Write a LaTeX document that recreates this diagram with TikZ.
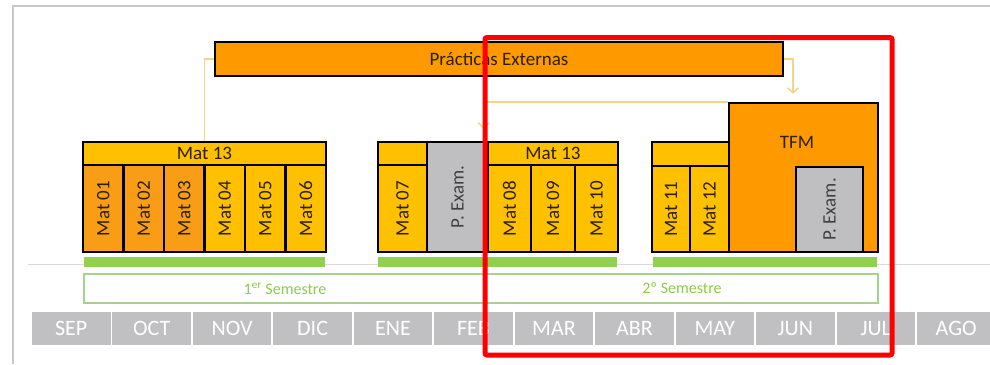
\documentclass[tikz,border=0pt]{standalone}
\usepackage{fontspec}
\setmainfont{Carlito}
\usetikzlibrary{arrows.meta}
\definecolor{orng}{HTML}{FF9900}
\definecolor{orngm}{HTML}{F99D17}
\definecolor{yell}{HTML}{FFC000}
\definecolor{exgray}{HTML}{BFBFC1}
\definecolor{mgray}{HTML}{C0C0C2}
\definecolor{barg}{HTML}{92D050}
\definecolor{semb}{HTML}{A9D18E}
\definecolor{semt}{HTML}{8DCB4C}
\definecolor{connc}{HTML}{F5D48A}
\definecolor{framec}{HTML}{C8C8C8}
\definecolor{txt}{HTML}{2A2000}
\newcommand\mkcell[8]{%
  \pgfmathsetmacro\mcW{#4-#2}\pgfmathsetmacro\mcH{#5-#3}%
  \pgfmathsetmacro\mcX{(#2+#4)/2}\pgfmathsetmacro\mcY{(#3+#5)/2}%
  \ifnum#7=0
    \node[#6,minimum width=\mcW pt,minimum height=\mcH pt] (#1) at (\mcX,\mcY) {#8};
  \else
    \node[#6,rotate=90,minimum width=\mcH pt,minimum height=\mcW pt] (#1) at (\mcX,\mcY) {#8};
  \fi}
\begin{document}
\begin{tikzpicture}[x=1pt,y=-1pt,
  box/.style={draw=black,line width=2.4pt,inner sep=0pt,text=txt,font=\fontsize{19}{19}\selectfont},
  org/.style={box,fill=orngm},
  yel/.style={box,fill=yell},
  exam/.style={box,fill=exgray,text=black!75},
  conn/.style={draw=connc,line width=1.5pt},
  arr/.style={-{Straight Barb[length=5pt,width=11pt]}},
  gbar/.style={fill=barg,inner sep=0pt},
  sem/.style={draw=semb,line width=1.5pt,inner sep=0pt,text=semt,font=\fontsize{16}{16}\selectfont},
  month/.style={fill=mgray,inner sep=0pt,text=white,font=\fontsize{22}{22}\selectfont,minimum width=78.5pt,minimum height=33pt}]
\useasboundingbox (0,0) rectangle (990,364);
\fill[white] (0,0) rectangle (990,364);
\begin{scope}
\clip (0,0) rectangle (990,364);
% frame
\draw[framec,line width=2pt] (990,6) -- (13,6) -- (13,364);
% timeline base line
\draw[black!15,line width=1pt] (28,264) -- (990,264);
% Practicas
\mkcell{prac}{215}{42}{783}{76}{box,fill=orng}{0}{Prácticas Externas}
% Block 1
\mkcell{h1}{83}{142}{326}{165}{yel}{0}{Mat 13}
\mkcell{m01}{83}{165}{123.5}{252}{org}{1}{Mat 01}
\mkcell{m02}{123.5}{165}{164}{252}{org}{1}{Mat 02}
\mkcell{m03}{164}{165}{204.5}{252}{org}{1}{Mat 03}
\mkcell{m04}{204.5}{165}{245}{252}{yel}{1}{Mat 04}
\mkcell{m05}{245}{165}{285.5}{252}{yel}{1}{Mat 05}
\mkcell{m06}{285.5}{165}{326}{252}{yel}{1}{Mat 06}
% Block 2
\mkcell{h2a}{378}{142}{427}{165}{yel}{0}{}
\mkcell{m07}{378}{165}{427}{252}{yel}{1}{Mat 07}
\mkcell{ex1}{427}{142}{488}{252}{exam}{1}{P. Exam.}
\mkcell{h2b}{488}{142}{618}{165}{yel}{0}{Mat 13}
\mkcell{m08}{488}{165}{531}{252}{yel}{1}{Mat 08}
\mkcell{m09}{531}{165}{575}{252}{yel}{1}{Mat 09}
\mkcell{m10}{575}{165}{618}{252}{yel}{1}{Mat 10}
% Block 3
\mkcell{h3}{652}{142}{729}{166}{yel}{0}{}
\mkcell{m11}{652}{166}{690}{252}{yel}{1}{Mat 11}
\mkcell{m12}{690}{166}{729}{252}{yel}{1}{Mat 12}
\mkcell{tfm}{729}{103}{878}{252}{box,fill=orng}{0}{}
\node[text=txt,font=\fontsize{19}{19}\selectfont,inner sep=0pt] (tfml) at (797,142) {TFM};
\mkcell{ex2}{796}{167}{863}{252}{exam}{1}{P. Exam.}
% connectors
\draw[conn] (prac.west) -| (h1.north);
\draw[conn,arr] (prac.east) -| ([xshift=-10.5pt,yshift=8pt]tfm.north);
\draw[conn,arr] (tfm.north west) -| ([xshift=-3pt,yshift=12pt]h2b.north west);
% green bars
\mkcell{g1}{84}{257}{325}{267}{gbar}{0}{}
\mkcell{g2}{378}{257}{617}{267}{gbar}{0}{}
\mkcell{g3}{653}{257}{877}{267}{gbar}{0}{}
% semesters
\mkcell{s1}{84}{274}{486}{303}{sem}{0}{1\textsuperscript{er} Semestre}
\mkcell{s2}{486}{274}{878}{303}{sem}{0}{2º Semestre}
% months
\foreach \mname [count=\i from 0] in {SEP,OCT,NOV,DIC,ENE,FEB,MAR,ABR,MAY,JUN,JUL,AGO}{
  \node[month] (mo\i) at ({32+39.25+80.45*\i},328.5) {\mname};
}
% highlight
\draw[red,line width=5pt,rounded corners=2pt] (485,37.5) rectangle (892,355);
\end{scope}
\end{tikzpicture}
\end{document}
